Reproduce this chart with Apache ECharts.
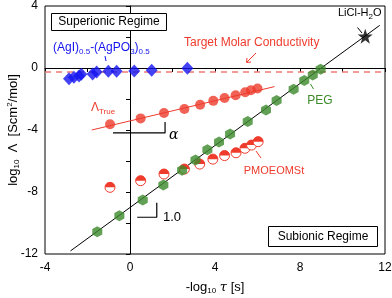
<!DOCTYPE html>
<html><head><meta charset="utf-8">
<script src="https://cdn.jsdelivr.net/npm/echarts@6/dist/echarts.min.js"></script>
<style>html,body{margin:0;padding:0;background:#fff}#c{width:392px;height:298px}</style>
</head><body><div id="c"></div>
<script>
// ---- data ----
const xTicks = [-4, 0, 4, 8, 12];
const yTicks = [-12, -8, -4, 0, 4];
const agiX = [-2.87, -2.64, -2.40, -2.29, -1.76, -1.57, -1.02, -0.63, 0.20, 1.02, 2.70];
const agiY = [-0.69, -0.60, -0.52, -0.41, -0.39, -0.26, -0.21, -0.21, -0.20, -0.15, -0.02];
const trueX = [-0.94, 0.50, 1.60, 2.56, 3.30, 3.92, 4.45, 4.97, 5.42, 5.69, 6.00];
const trueY = [-3.63, -3.25, -2.90, -2.65, -2.37, -2.12, -1.93, -1.76, -1.57, -1.44, -1.32];
const pmoX = [-0.94, 0.50, 1.60, 2.56, 3.28, 3.90, 4.45, 4.99, 5.41, 5.72, 6.03];
const pmoY = [-7.70, -7.27, -6.84, -6.52, -6.20, -5.88, -5.65, -5.47, -5.18, -4.97, -4.75];
const pegX = [-1.54, -0.50, 0.60, 1.57, 2.45, 3.08, 3.64, 4.19, 4.71, 5.54, 6.40, 6.90, 7.70, 8.20, 8.60, 8.97];
const pegY = [-10.56, -9.53, -8.52, -7.55, -6.60, -5.94, -5.27, -4.78, -4.25, -3.45, -2.71, -2.10, -1.37, -0.81, -0.45, -0.08];
const liclX = [11.07];
const liclY = [2.05];
const targetLine = [[-4, -0.25], [12, -0.25]];
const pegFit = [[-2.8, -11.8], [11.75, 2.75]];
const trueFit = [[-1.8, -4.0], [6.8, -1.2]];
const alphaMark = [[-0.80, -4.19], [1.65, -4.19], [1.65, -3.48]];
const oneMark = [[0.34, -9.63], [1.26, -9.63], [1.26, -8.69]];

const RED = '#ee3b2c', BLUE = '#1414f0', GREEN = '#3b8a2a';
const FONT = 'Liberation Sans, Arial, sans-serif';
const zip = (a, b) => a.map((v, i) => [v, b[i]]);
const hex = 'path://M50,0 L93.3,25 L93.3,75 L50,100 L6.7,75 L6.7,25 Z';
const star = 'path://M50,0 L61.8,35.1 L97.6,34.5 L69.1,56.7 L79.4,90.5 L50,70 L20.6,90.5 L30.9,56.7 L2.4,34.5 L38.2,35.1 Z';

const chart = echarts.init(document.getElementById('c'));
const sub = {fontSize: 8, padding: [7, 0, 0, 0], fontFamily: FONT};
const sup = {fontSize: 8, padding: [0, 0, 7, 0], fontFamily: FONT};

chart.setOption({
  animation: false,
  grid: {left: 45, right: 7, top: 6, bottom: 44, show: true, borderColor: '#000', borderWidth: 1, containLabel: false, outerBoundsMode: 'none'},
  xAxis: {
    type: 'value', min: -4, max: 12, interval: 2,
    axisLine: {lineStyle: {color: '#000'}},
    axisTick: {inside: false, length: 4, lineStyle: {color: '#000'}},
    splitLine: {show: false},
    axisLabel: {color: '#000', fontSize: 12, fontFamily: FONT, margin: 8,
      formatter: v => xTicks.includes(v) ? String(v) : ''},
    name: '{n|-log}{s|10}{n| }{t|τ}{n| [s]}', nameLocation: 'middle', nameGap: 26, nameMoveOverlap: false,
    nameTextStyle: {rich: {n: {fontSize: 13, fontFamily: FONT, color: '#000'}, s: Object.assign({color:'#000'}, sub), t: {fontSize: 13, fontStyle: 'italic', fontFamily: 'DejaVu Serif, serif', color:'#000'}}}
  },
  yAxis: {
    type: 'value', min: -12, max: 4, interval: 2,
    axisLine: {lineStyle: {color: '#000'}},
    axisTick: {inside: false, length: 4, lineStyle: {color: '#000'}},
    splitLine: {show: false},
    axisLabel: {color: '#000', fontSize: 12, fontFamily: FONT, margin: 7,
      formatter: v => yTicks.includes(v) ? String(v) : ''},
    name: '{n|log}{s|10}{n|  Λ  [Scm}{p|2}{n|/mol]}', nameLocation: 'middle', nameGap: 24, nameRotate: 90, nameMoveOverlap: false,
    nameTextStyle: {rich: {n: {fontSize: 13, fontFamily: FONT, color: '#000'}, s: Object.assign({color:'#000'}, sub), p: Object.assign({color:'#000'}, sup)}}
  },
  series: [
    {type: 'line', data: targetLine, symbol: 'none', lineStyle: {color: '#f07a74', width: 1.5, type: [6, 5]}, z: 1},
    {type: 'line', data: pegFit, symbol: 'none', lineStyle: {color: '#000', width: 1}, z: 2},
    {type: 'line', data: trueFit, symbol: 'none', lineStyle: {color: RED, width: 1}, z: 2},
    {type: 'line', data: alphaMark, symbol: 'none', lineStyle: {color: '#000', width: 1.2}, z: 2},
    {type: 'line', data: oneMark, symbol: 'none', lineStyle: {color: '#000', width: 1.2}, z: 2},
    {type: 'scatter', data: zip(agiX, agiY), symbol: 'diamond', symbolSize: [12, 13], itemStyle: {color: BLUE}, z: 4},
    {type: 'scatter', data: zip(pegX, pegY), symbol: hex, symbolSize: [10, 11], itemStyle: {color: GREEN}, z: 4},
    {type: 'scatter', data: zip(trueX, trueY), symbol: 'circle', symbolSize: 10, itemStyle: {color: RED}, z: 4},
    {type: 'custom', data: zip(pmoX, pmoY), z: 4,
      renderItem: (params, api) => {
        const p = api.coord([api.value(0), api.value(1)]);
        const r = 5;
        return {type: 'group', children: [
          {type: 'circle', shape: {cx: p[0], cy: p[1], r: r}, style: {fill: '#fff', stroke: RED, lineWidth: 1}},
          {type: 'sector', shape: {cx: p[0], cy: p[1], r0: 0, r: r, startAngle: Math.PI, endAngle: 2 * Math.PI}, style: {fill: RED}}
        ]};
      }},
    {type: 'scatter', data: zip(liclX, liclY), symbol: star, symbolSize: 15, itemStyle: {color: '#000'}, z: 5}
  ],
  graphic: [
    {type: 'rect', shape: {x: 51.5, y: 13.5, width: 115, height: 17}, style: {fill: '#fff', stroke: '#000', lineWidth: 1}, z: 10},
    {type: 'text', x: 109, y: 22, style: {text: 'Superionic Regime', font: '12px ' + FONT, fill: '#000', align: 'center', verticalAlign: 'middle'}, z: 11},
    {type: 'rect', shape: {x: 268.5, y: 226.5, width: 109, height: 20}, style: {fill: '#fff', stroke: '#000', lineWidth: 1}, z: 10},
    {type: 'text', x: 323, y: 237, style: {text: 'Subionic Regime', font: '12px ' + FONT, fill: '#000', align: 'center', verticalAlign: 'middle'}, z: 11},
    {type: 'text', x: 53, y: 48, style: {text: '{n|(AgI)}{s|0.5}{n|-(AgPO}{s|3}{n|)}{s|0.5}', align: 'left', verticalAlign: 'middle',
      rich: {n: {fontSize: 12, fontFamily: FONT, fill: BLUE}, s: Object.assign({fill: BLUE}, sub)}}, z: 11},
    {type: 'line', shape: {x1: 105, y1: 56, x2: 106, y2: 61}, style: {stroke: BLUE, lineWidth: 1}},
    {type: 'text', x: 184, y: 43, style: {text: 'Target Molar Conductivity', font: '12px ' + FONT, fill: RED, align: 'left', verticalAlign: 'middle'}, z: 11},
    {type: 'line', shape: {x1: 256, y1: 53, x2: 247, y2: 62}, style: {stroke: RED, lineWidth: 1}},
    {type: 'polyline', shape: {points: [[247, 58], [246.5, 62.5], [251, 62]]}, style: {stroke: RED, fill: null, lineWidth: 1}},
    {type: 'text', x: 91, y: 108, style: {text: '{n|Λ}{s|True}', align: 'left', verticalAlign: 'middle',
      rich: {n: {fontSize: 12, fontFamily: FONT, fill: RED}, s: Object.assign({fill: RED}, sub)}}, z: 11},
    {type: 'text', x: 169, y: 135, style: {text: 'α', font: 'italic 14px DejaVu Serif, serif', fill: '#000', align: 'left', verticalAlign: 'middle'}},
    {type: 'text', x: 163, y: 217.5, style: {text: '1.0', font: '13px ' + FONT, fill: '#000', align: 'left', verticalAlign: 'middle'}},
    {type: 'text', x: 320, y: 101, style: {text: 'PEG', font: '12px ' + FONT, fill: GREEN, align: 'center', verticalAlign: 'middle'}},
    {type: 'line', shape: {x1: 310.5, y1: 84, x2: 313.5, y2: 89}, style: {stroke: GREEN, lineWidth: 1}},
    {type: 'text', x: 274, y: 171, style: {text: 'PMOEOMSt', font: '11px ' + FONT, fill: RED, align: 'center', verticalAlign: 'middle'}},
    {type: 'line', shape: {x1: 256, y1: 151, x2: 261, y2: 158}, style: {stroke: RED, lineWidth: 1}},
    {type: 'text', x: 338, y: 13, style: {text: '{n|LiCl-H}{s|2}{n|O}', align: 'left', verticalAlign: 'middle',
      rich: {n: {fontSize: 11, fontFamily: FONT, fill: '#000'}, s: Object.assign({fill: '#000'}, sub)}}},
    {type: 'line', shape: {x1: 357.5, y1: 27.5, x2: 362, y2: 33}, style: {stroke: '#000', lineWidth: 1}}
  ]
});
</script></body></html>
